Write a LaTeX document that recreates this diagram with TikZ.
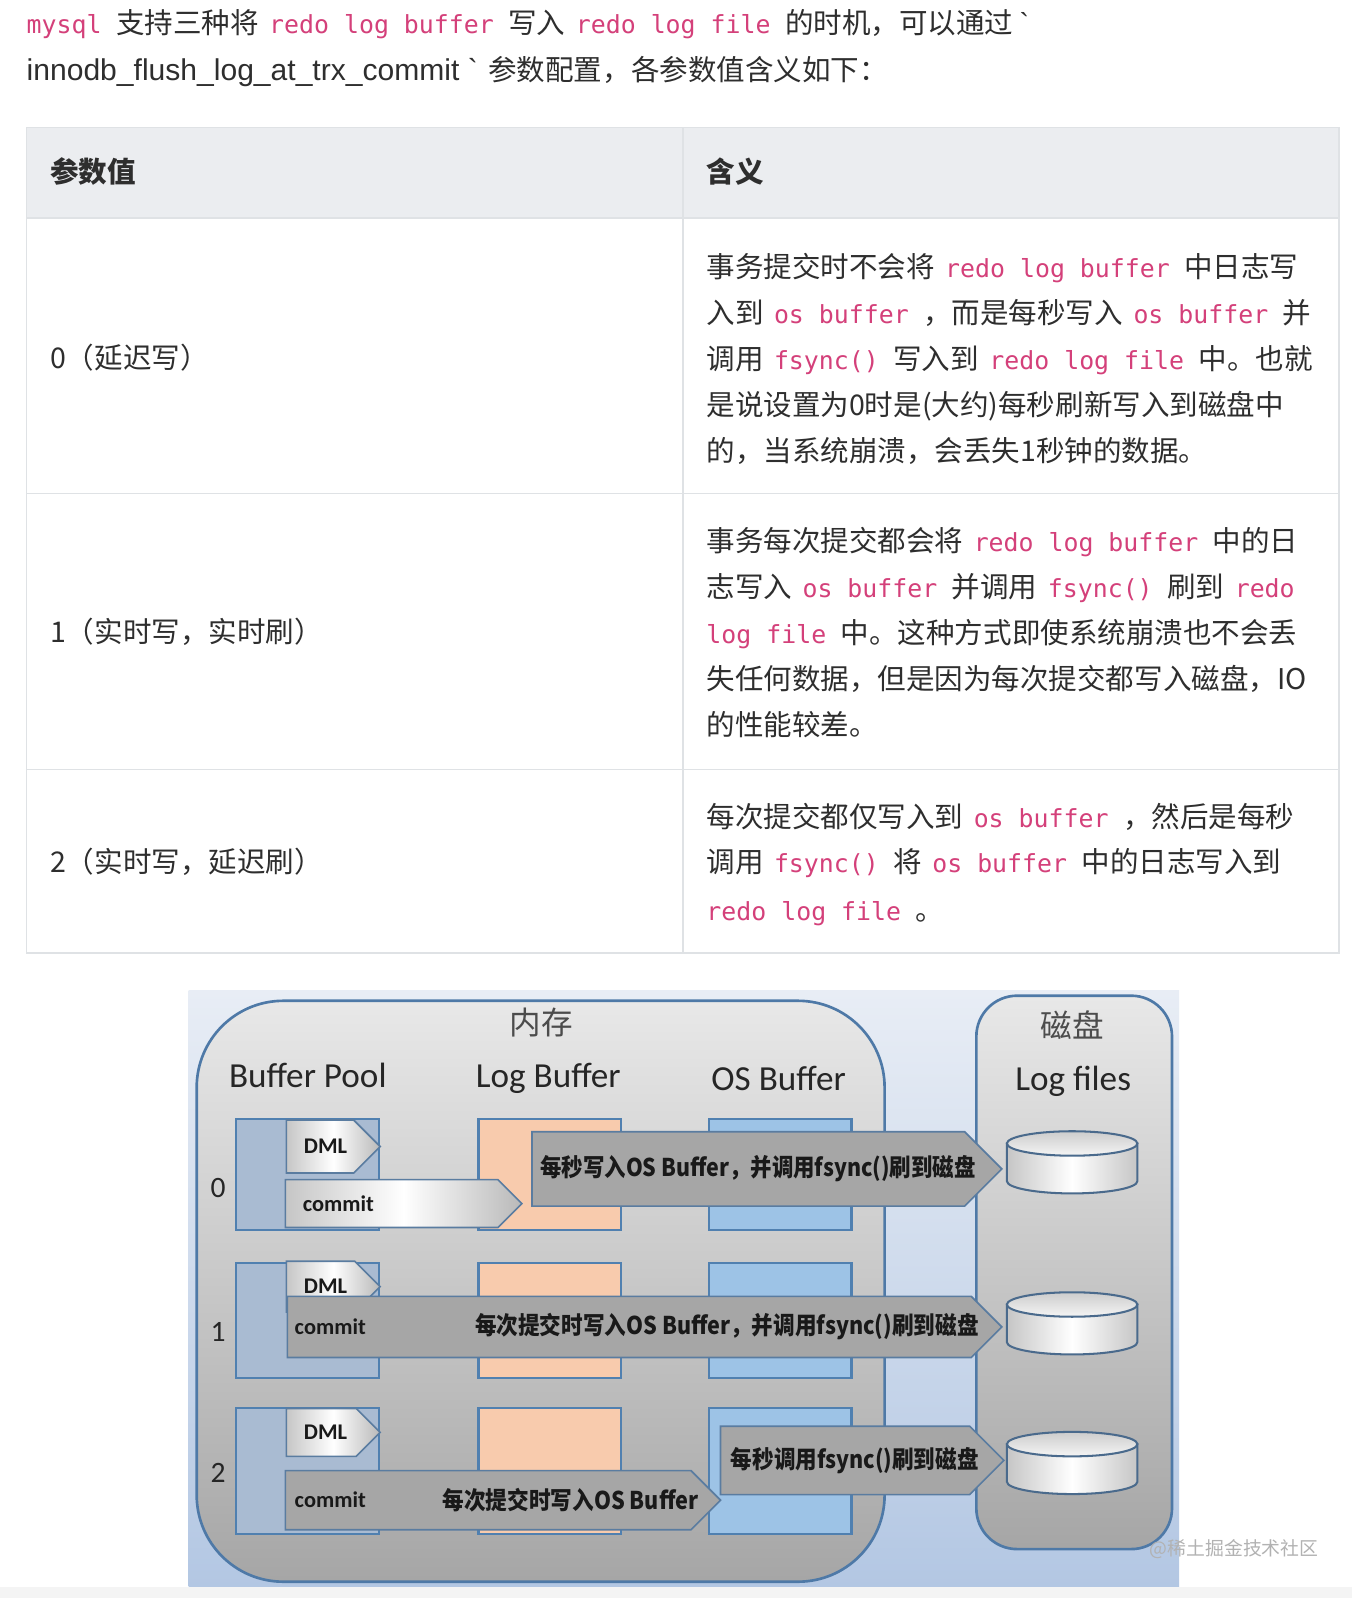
\documentclass[tikz,border=0pt]{standalone}
\usepackage{fontspec}
\setmainfont{Noto Sans CJK SC}
\setmonofont{DejaVu Sans Mono}
\newfontfamily\latfont{Liberation Sans}
\newfontfamily\calfont{Carlito}
\usepackage{xcolor}
\usepackage{graphicx}
\usepackage{tikz}
\usetikzlibrary{shapes.geometric, shapes.arrows, positioning}

\definecolor{txt}{HTML}{2E2E2E}
\definecolor{codepink}{HTML}{D4407A}
\definecolor{tline}{HTML}{DFE2E5}
\definecolor{thead}{HTML}{EBEDF0}
\definecolor{bgtop}{HTML}{E8EDF5}
\definecolor{bgbot}{HTML}{B3C7E3}
\definecolor{edgeblue}{HTML}{4E79A7}
\definecolor{cellblue}{HTML}{5080B0}
\definecolor{bpfill}{HTML}{A9BBD2}
\definecolor{lbfill}{HTML}{F8CBAD}
\definecolor{osfill}{HTML}{9DC3E6}
\definecolor{arrowedge}{HTML}{5A7CA0}
\definecolor{arrowgray}{HTML}{A6A6A6}
\definecolor{cylblue}{HTML}{4A6A8C}

\newcommand{\code}[1]{\hspace{4pt}{\ttfamily\fontsize{24.4}{28}\selectfont\color{codepink}#1}\hspace{8pt}}
\newcommand{\squeeze}[2]{\resizebox{#1}{\height}{#2}}

\begin{document}
\begin{tikzpicture}[x=1pt, y=-1pt,
  tx/.style={anchor=base west, inner sep=0pt, text=txt, font=\fontsize{28}{34}\selectfont},
  th/.style={tx, font=\fontsize{28}{34}\selectfont\bfseries},
  ttl/.style={anchor=base, inner sep=0pt, text=black!85, font=\calfont\fontsize{34.5}{38}\selectfont},
  cjkttl/.style={anchor=base, inner sep=0pt, text=black!70, font=\fontsize{31}{34}\selectfont},
  rowno/.style={anchor=base, inner sep=0pt, text=black!85, font=\calfont\fontsize{29}{32}\selectfont},
  membox/.style={draw=edgeblue, line width=2.6, rounded corners=85pt, top color=gray!18, bottom color=gray!70},
  bpbox/.style={draw=cellblue, line width=2, fill=bpfill, minimum width=140pt, inner sep=0pt},
  lbbox/.style={bpbox, fill=lbfill},
  osbox/.style={bpbox, fill=osfill},
  blk/.style={single arrow, single arrow head extend=0pt, single arrow tip angle=90, inner xsep=0pt, outer sep=0pt, anchor=tail, draw=arrowedge, line width=1.6},
  bigarr/.style={blk, fill=arrowgray},
  lightarr/.style={blk, left color=gray!45, right color=gray!55, middle color=white},
  asize/.style n args={3}{minimum height=#1pt, minimum width=#2pt, inner ysep=#3pt},
  albl/.style={inner sep=0pt, text=black!90, font=\calfont\fontsize{22}{24}\selectfont\bfseries},
  clbl/.style={inner sep=0pt, text=black!90, font=\fontsize{24}{26}\selectfont\bfseries},
  wm/.style={inner sep=0pt, text=gray!60, font=\fontsize{18.5}{22}\selectfont}]

\useasboundingbox (0,0) rectangle (1327,1568);
\fill[white] (0,0) rectangle (1327,1568);

% intro text
\node[tx] (intro1) at (22,32.5) {\code{mysql} 支持三种将 \code{redo log buffer} 写入 \code{redo log file} 的时机，可以通过 {\latfont`}};
\node[tx] (intro2) at (26,78.5) {{\latfont\fontsize{29.5}{34}\selectfont innodb\_flush\_log\_at\_trx\_commit `}\hspace{4pt} 参数配置，各参数值含义如下：};

% table grid
\fill[thead] (26,125) rectangle (1314,214);
\draw[tline, line width=1.5] (26,125) rectangle (1314,935);
\draw[tline, line width=1.5] (670,125) -- (670,935);
\draw[tline, line width=2.2] (26,214) -- (1314,214);
\draw[tline, line width=1.5] (26,484) -- (1314,484);
\draw[tline, line width=1.5] (26,755) -- (1314,755);

\node[th] (hval) at (49,179.5) {参数值};
\node[th] (hmean) at (693,179.5) {含义};

% left column
\node[tx] (v0) at (49,361.5) {0（延迟写）};
\node[tx] (v1) at (49,630.5) {1（实时写，实时刷）};
\node[tx] (v2) at (49,856.5) {2（实时写，延迟刷）};

% right column
\node[tx] (m0a) at (693,272.5) {事务提交时不会将 \code{redo log buffer} 中日志写};
\node[tx] (m0b) at (693,317.5) {入到 \code{os buffer} ，而是每秒写入 \code{os buffer} 并};
\node[tx] (m0c) at (693,362.5) {调用 \code{fsync()} 写入到 \code{redo log file} 中。也就};
\node[tx] (m0d) at (693,407.5) {是说设置为0时是(大约)每秒刷新写入到磁盘中};
\node[tx] (m0e) at (693,452.5) {的，当系统崩溃，会丢失1秒钟的数据。};

\node[tx] (m1a) at (693,541.5) {事务每次提交都会将 \code{redo log buffer} 中的日};
\node[tx] (m1b) at (693,586.5) {志写入 \code{os buffer} 并调用 \code{fsync()} 刷到 \code{redo}};
\node[tx] (m1c) at (689,631.5) {\code{log file} 中。这种方式即使系统崩溃也不会丢};
\node[tx] (m1d) at (693,676.5) {失任何数据，但是因为每次提交都写入磁盘，IO};
\node[tx] (m1e) at (693,721.5) {的性能较差。};

\node[tx] (m2a) at (693,811.5) {每次提交都仅写入到 \code{os buffer} ，然后是每秒};
\node[tx] (m2b) at (693,856.5) {调用 \code{fsync()} 将 \code{os buffer} 中的日志写入到};
\node[tx] (m2c) at (689,903.5) {\code{redo log file} 。};

% picture
\shade[top color=bgtop, bottom color=bgbot] (185,972) rectangle (1157,1557);
\fill[gray!9] (0,1557) rectangle (1327,1568);

\node[membox, minimum width=675pt, minimum height=570pt] (mem) at (530.5,1267) {};
\node[membox, rounded corners=40pt, minimum width=192pt, minimum height=543pt] (disk) at (1054,1248.5) {};

\node[cjkttl] (memttl) at (531,1015) {内存};
\node[cjkttl] (diskttl) at (1052,1018) {磁盘};
\node[ttl] (bpttl) at (302,1067) {Buffer Pool};
\node[ttl] (lbttl) at (538,1067) {Log Buffer};
\node[ttl] (osttl) at (764,1070) {OS Buffer};
\node[ttl] (lfttl) at (1053,1070) {Log files};

\foreach \r/\yc/\h/\ly in {0/1152.5/109/1175, 1/1295.5/113/1316.5, 2/1443.5/123/1455}{
  \node[bpbox, minimum height=\h pt] (bp\r) at (302,\yc) {};
  \node[lbbox, minimum height=\h pt] (lb\r) at (539.5,\yc) {};
  \node[osbox, minimum height=\h pt] (os\r) at (765.5,\yc) {};
  \node[rowno] (no\r) at (214,\ly) {\r};
}

% log files
\foreach \r/\ty in {0/1122, 1/1280, 2/1417}{
  \shadedraw[left color=gray!45, right color=gray!45, middle color=white, draw=cylblue, line width=2]
    (988,\ty) -- (988,\ty+37) arc[start angle=180, end angle=0, x radius=64, y radius=12] -- (1116,\ty) -- cycle;
  \shadedraw[top color=gray!40, bottom color=gray!8, draw=cylblue, line width=2] (1052,\ty) ellipse [x radius=64, y radius=12];
}

% DML arrows
\foreach \r/\yc/\hw in {0/1125/52, 1/1262.5/50, 2/1405.5/47}{
  \node[lightarr, asize={92}{\hw}{12.5}] (dml\r) at (281,\yc) {};
  \node[albl, right=17pt of dml\r.tail] (dmltxt\r) {DML};
}

% row 0
\node[lightarr, asize={232}{47}{12}] (cmt0) at (280,1181) {};
\node[albl, right=17pt of cmt0.tail] (cmttxt0) {commit};
\node[bigarr, asize={461}{73}{19}] (fs0) at (522,1147) {};
\node[clbl, right=8pt of fs0.tail] (fstxt0) {\squeeze{427pt}{每秒写入OS Buffer，并调用fsync()刷到磁盘}};

% row 1
\node[bigarr, asize={701}{60}{14}] (cmt1) at (282,1302) {};
\node[albl, right=7pt of cmt1.tail] (cmttxt1) {commit};
\node[clbl, right=184pt of cmt1.tail] (fstxt1) {\squeeze{494pt}{每次提交时写入OS Buffer，并调用fsync()刷到磁盘}};

% row 2
\node[bigarr, asize={427}{58}{14}] (cmt2) at (280,1472) {};
\node[albl, right=9pt of cmt2.tail] (cmttxt2) {commit};
\node[clbl, right=154pt of cmt2.tail] (ostxt2) {\squeeze{251pt}{每次提交时写入OS Buffer}};
\node[bigarr, asize={278}{67}{15}] (fs2) at (707,1433) {};
\node[clbl, right=10pt of fs2.tail] (fstxt2) {\squeeze{243pt}{每秒调用fsync()刷到磁盘}};

\node[wm] (mark) at (1211,1520) {@稀土掘金技术社区};

\end{tikzpicture}
\end{document}
